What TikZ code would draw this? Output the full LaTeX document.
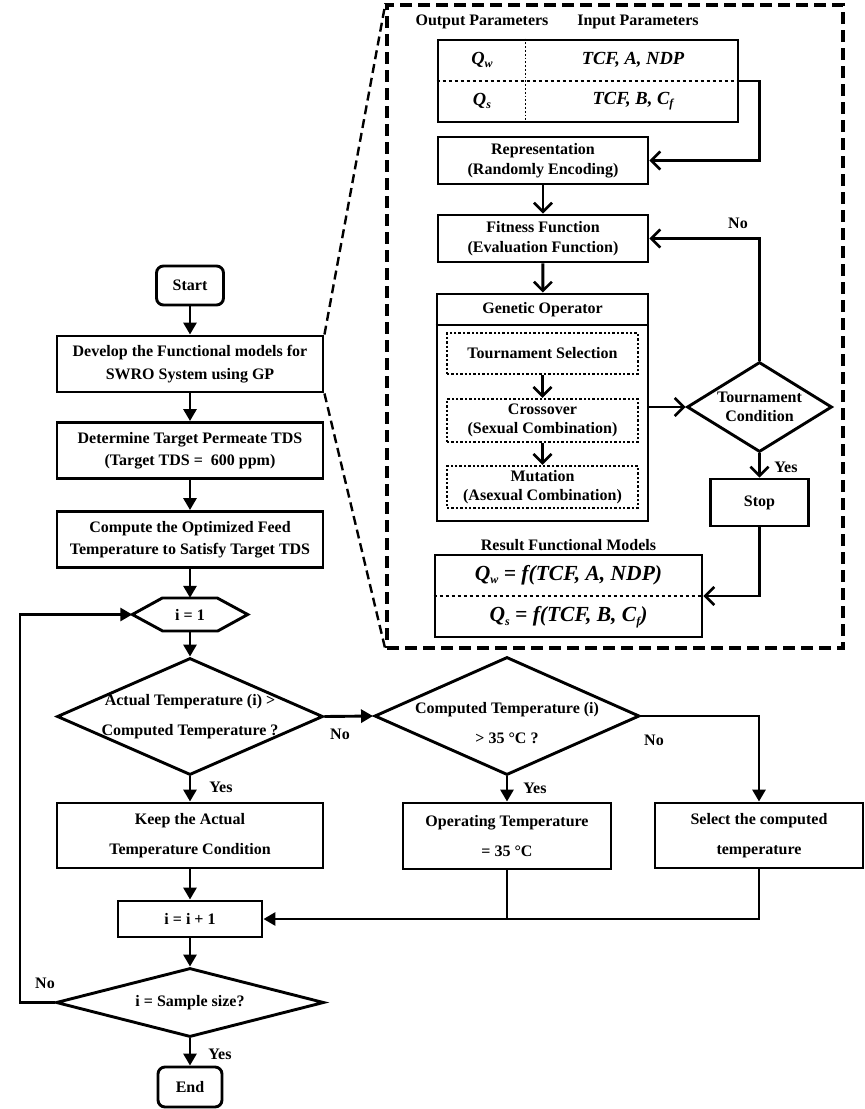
\documentclass[tikz,border=0pt]{standalone}
\usepackage{fontspec}
\setmainfont{Liberation Serif}
\usetikzlibrary{arrows.meta,shapes.geometric}
\newcommand\lsub[1]{\raisebox{-0.35ex}{\fontsize{12}{12}\selectfont #1}}
\begin{document}
\begin{tikzpicture}[x=1pt,y=-1pt,
  every node/.style={font=\fontsize{16}{18.5}\selectfont\bfseries},
  box/.style={draw, line width=2.9pt, inner sep=0pt, align=center},
  dotbox/.style={draw, line width=2.4pt, dotted, inner sep=0pt, align=center},
  dia/.style={draw, diamond, line width=2.9pt, inner sep=0pt},
  la/.style={line width=2.9pt, -{Triangle[length=12pt,width=13pt]}},
  ra/.style={line width=2.9pt, -{Straight Barb[length=9pt,width=18pt,line width=2.6pt]}},
  ln/.style={line width=2.9pt},
  lbl/.style={inner sep=0pt},
  mth/.style={font=\fontsize{18.5}{20}\selectfont\bfseries\itshape, inner sep=0pt},
  eqn/.style={font=\fontsize{21.5}{23}\selectfont\bfseries\itshape, inner sep=0pt}
]
\useasboundingbox (0,0) rectangle (865,1109);

% ---------------- left column ----------------
\node[box, rounded corners=7pt, minimum width=67pt, minimum height=39pt] (start) at (190,285.5) {Start};
\node[box, minimum width=266pt, minimum height=56pt] (dev) at (190,364) {Develop the Functional models for\\[4pt]SWRO System using GP};
\node[box, minimum width=266pt, minimum height=56pt] (det) at (190,450.5) {Determine Target Permeate TDS\\[4pt](Target TDS = \ 600 ppm)};
\node[box, minimum width=266pt, minimum height=56pt] (comp) at (190,539.5) {Compute the Optimized Feed\\[4pt]Temperature to Satisfy Target TDS};
\node[minimum width=115pt, minimum height=33pt, inner sep=0pt] (hex) at (190,614.5) {i = 1};
\draw[ln, line join=miter] (hex.west) -- ++(30,-16.5) -- ++(55,0) -- (hex.east) -- ++(-30,16.5) -- ++(-55,0) -- cycle;
\node[dia, minimum width=266pt, minimum height=117pt] (d1) at (190,716.5) {};
\node[align=center, inner sep=0pt] (d1t) at (d1) {Actual Temperature (i) >\\[11pt]Computed Temperature ?};
\node[box, minimum width=266pt, minimum height=65pt] (keep) at (190,835.5) {Keep the Actual\\[11pt]Temperature Condition};
\node[dia, minimum width=265pt, minimum height=118pt] (d2) at (507,716) {};
\node[align=center, inner sep=0pt] (d2t) at (507,723) {Computed Temperature (i)\\[11pt]> 35 °C ?};
\node[box, minimum width=208pt, minimum height=66pt] (op) at (507,836) {Operating Temperature\\[11pt]= 35 °C};
\node[box, minimum width=208pt, minimum height=65pt] (sel) at (759,835.5) {Select the computed\\[11pt]temperature};
\node[box, minimum width=144pt, minimum height=36pt] (inc) at (190,919) {i = i + 1};
\node[dia, minimum width=268pt, minimum height=69pt] (d3) at (190,1002.5) {};
\node[inner sep=0pt] (d3t) at (d3) {i = Sample size?};
\node[box, rounded corners=7pt, minimum width=64pt, minimum height=40pt] (end) at (190,1087) {End};
\coordinate (lp) at (20,1002.5);

\draw[la] (start) -- (dev);
\draw[la] (dev) -- (det);
\draw[la] (det) -- (comp);
\draw[la] (comp) -- (hex);
\draw[la] (hex.south) -- (d1.north);
\draw[la] (d1.east) -- (d2.west);
\draw[la] (d1.south) -- (keep.north);
\draw[la] (d2.south) -- (op.north);
\draw[la] (d2.east) -| (sel.north);
\draw[la] (keep) -- (inc);
\draw[ln] (op.south) -- (op.south |- inc.east);
\draw[la] (sel.south) |- (inc.east);
\draw[la] (inc) -- (d3.north);
\draw[la] (d3.south) -- (end);
\draw[la] (d3.west) -- (lp) |- (hex.west);

\node[lbl] (no1) at (340,734) {No};
\node[lbl] (yes1) at (221,787) {Yes};
\node[lbl] (no2) at (654,740) {No};
\node[lbl] (yes2) at (535,788) {Yes};
\node[lbl] (no3) at (45,983) {No};
\node[lbl] (yes3) at (220,1054) {Yes};

% ---------------- GP detail frame ----------------
\node[draw, line width=3.2pt, dash pattern=on 12pt off 6pt, minimum width=456pt, minimum height=643pt, inner sep=0pt] (gp) at (615,326.5) {};
\draw[line width=2.4pt, dash pattern=on 9pt off 5pt] (dev.north east) -- (gp.north west);
\draw[line width=2.4pt, dash pattern=on 9pt off 5pt] (dev.south east) -- (gp.south west);

\node[lbl] (hout) at (482,22) {Output Parameters};
\node[lbl] (hin) at (638,22) {Input Parameters};
\node[box, minimum width=300pt, minimum height=82pt] (tbl) at (588,81) {};
\draw[line width=1.8pt, dashed] (tbl.west) -- (tbl.east);
\draw[line width=1.8pt, dotted] ([xshift=89pt]tbl.north west) -- ([xshift=89pt]tbl.south west);
\node[mth] (qw) at (482,60) {Q\lsub{w}};
\node[mth] (qwin) at (633,60) {TCF, A, NDP};
\node[mth] (qs) at (482,101) {Q\lsub{s}};
\node[mth] (qsin) at (633,101) {TCF, B, C\lsub{f}};

\node[box, minimum width=210pt, minimum height=47pt] (rep) at (543,160.5) {Representation\\[1pt](Randomly Encoding)};
\node[box, minimum width=210pt, minimum height=47pt] (fit) at (543,238.5) {Fitness Function\\[1pt](Evaluation Function)};
\node[box, minimum width=211pt, minimum height=227pt] (gop) at (542.5,407.5) {};
\node[lbl] (goph) at (542.5,310) {Genetic Operator};
\draw[ln] (gop.north west |- 0,325) -- (gop.north east |- 0,325);
\node[dotbox, minimum width=191pt, minimum height=41pt] (ts) at (542.5,353.5) {Tournament Selection};
\node[dotbox, minimum width=191pt, minimum height=43pt] (co) at (542.5,420.5) {Crossover\\[1pt](Sexual Combination)};
\node[dotbox, minimum width=191pt, minimum height=42pt] (mu) at (542.5,487) {Mutation\\[1pt](Asexual Combination)};
\node[dia, minimum width=145pt, minimum height=90pt] (tc) at (759.5,407) {};
\node[align=center, inner sep=0pt] (tct) at (tc) {Tournament\\[1pt]Condition};
\node[box, minimum width=98pt, minimum height=47pt] (stop) at (759.5,502.5) {Stop};
\node[lbl] (resh) at (568.5,545) {Result Functional Models};
\node[box, minimum width=267pt, minimum height=82pt] (res) at (568.5,596) {};
\draw[line width=1.8pt, dashed] (res.west) -- (res.east);
\node[eqn] (eq1) at (568.5,575) {Q\lsub{w} = f(TCF, A, NDP)};
\node[eqn] (eq2) at (568.5,617) {Q\lsub{s} = f(TCF, B, C\lsub{f})};

\draw[ra] (tbl.east) -- ++(20,0) |- (rep.east);
\draw[ra] (rep) -- (fit);
\draw[ra] (fit) -- (gop);
\draw[ra] (ts) -- (co);
\draw[ra] (co) -- (mu);
\draw[ra] (gop.east |- tc.west) -- (tc.west);
\draw[ra] (tc.north) |- (fit.east);
\draw[ra] (tc.south) -- (stop.north);
\draw[ra] (stop.south) |- (res.east);
\node[lbl] (no4) at (738,223) {No};
\node[lbl] (yes4) at (786,467) {Yes};
\end{tikzpicture}
\end{document}
